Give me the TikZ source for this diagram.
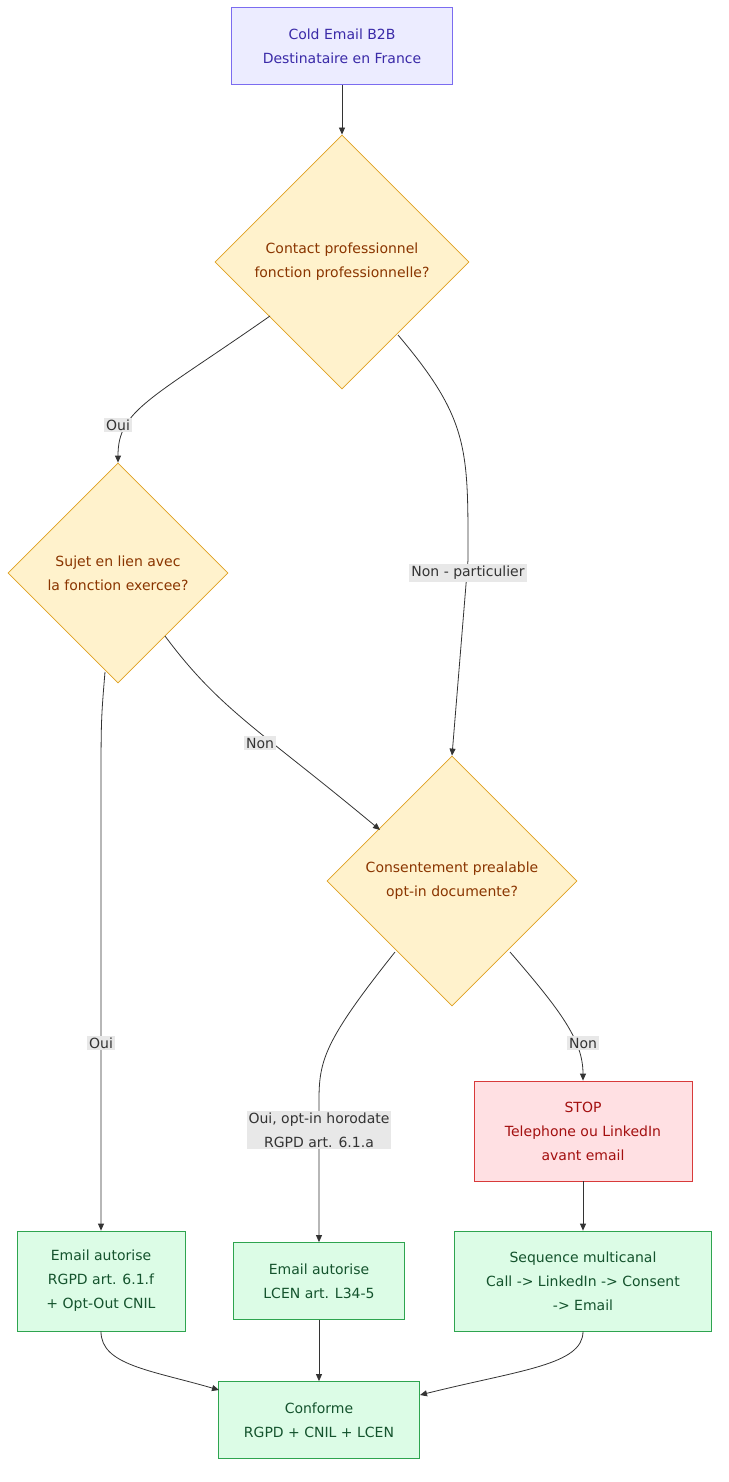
\documentclass[tikz,border=0pt]{standalone}
\usepackage{fontspec}
\setmainfont{DejaVu Sans}
\usetikzlibrary{shapes.geometric,arrows.meta}
\definecolor{sfill}{HTML}{ECECFF}\definecolor{sdraw}{HTML}{7B6CF0}\definecolor{stext}{HTML}{3A2AA8}
\definecolor{dfill}{HTML}{FFF2CC}\definecolor{ddraw}{HTML}{E0A020}\definecolor{dtext}{HTML}{8A3500}
\definecolor{rfill}{HTML}{FFE0E3}\definecolor{rdraw}{HTML}{D83A3A}\definecolor{rtext}{HTML}{A30F0F}
\definecolor{gfill}{HTML}{DCFCE6}\definecolor{gdraw}{HTML}{2EA44F}\definecolor{gtext}{HTML}{14532D}
\definecolor{lbl}{HTML}{E8E8E8}\definecolor{ln}{HTML}{333333}
\begin{document}
\begin{tikzpicture}[x=1pt,y=-1pt,
 base/.style={font=\fontsize{14}{24}\selectfont,align=center,inner sep=0},
 box/.style={base,draw,line width=0.8pt,rectangle},
 start/.style={box,fill=sfill,draw=sdraw,text=stext},
 dec/.style={base,draw=ddraw,fill=dfill,text=dtext,line width=0.8pt,diamond,aspect=1},
 red/.style={box,fill=rfill,draw=rdraw,text=rtext},
 grn/.style={box,fill=gfill,draw=gdraw,text=gtext},
 lab/.style={base,fill=lbl,text=ln,inner sep=2pt},
 e/.style={draw=ln,line width=0.8pt,-{Triangle[length=7pt,width=6pt]}}]
\useasboundingbox (0,0) rectangle (728,1482);
\node[start,minimum width=221,minimum height=77] (s) at (342,46) {Cold Email B2B\\Destinataire en France};
\node[dec,minimum size=254] (d1) at (342,262) {Contact professionnel\\fonction professionnelle?};
\node[dec,minimum size=220] (d2) at (118,573) {Sujet en lien avec\\la fonction exercee?};
\node[dec,minimum size=250] (d3) at (452,881) {Consentement prealable\\opt-in documente?};
\node[red,minimum width=218,minimum height=100] (stop) at (583,1131) {STOP\\Telephone ou LinkedIn\\avant email};
\node[grn,minimum width=168,minimum height=100] (e1) at (101,1281) {Email autorise\\RGPD art. 6.1.f\\+ Opt-Out CNIL};
\node[grn,minimum width=171,minimum height=77] (e2) at (319,1281) {Email autorise\\LCEN art. L34-5};
\node[grn,minimum width=257,minimum height=100] (e3) at (583,1281) {Sequence multicanal\\Call -> LinkedIn -> Consent\\-> Email};
\node[grn,minimum width=201,minimum height=77] (c) at (319,1420) {Conforme\\RGPD + CNIL + LCEN};
\coordinate (d1l) at (270,316); \coordinate (d1r) at (398,335);
\coordinate (d2b) at (105,672); \coordinate (d2r) at (165,636);
\coordinate (d3l) at (395,952); \coordinate (d3r) at (510,952);
\draw[e] (s) -- (d1);
\draw[e] (d1l) .. controls (150,400) and (118,410) .. (d2.north);
\draw[e] (d1r) .. controls (470,420) and (468,450) .. (468,560) -- (d3.north);
\draw[e] (d2b) .. controls (101,720) .. (101,800) -- (e1.north);
\draw[e] (d2r) .. controls (220,710) and (260,730) .. (380,830);
\draw[e] (d3l) .. controls (325,1040) and (319,1060) .. (319,1100) -- (e2.north);
\draw[e] (d3r) .. controls (560,1010) and (583,1040) .. (stop.north);
\draw[e] (stop) -- (e3);
\draw[e] (e1.south) .. controls (101,1365) and (150,1370) .. (219,1390);
\draw[e] (e2) -- (c);
\draw[e] (e3.south) .. controls (583,1365) and (520,1370) .. (420,1395);
\node[lab] at (118,425) {Oui};
\node[lab] at (468,573) {Non - particulier};
\node[lab] at (101,1043) {Oui};
\node[lab] at (260,743) {Non};
\node[lab] at (319,1130) {Oui, opt-in horodate\\RGPD art. 6.1.a};
\node[lab] at (583,1043) {Non};
\end{tikzpicture}
\end{document}
